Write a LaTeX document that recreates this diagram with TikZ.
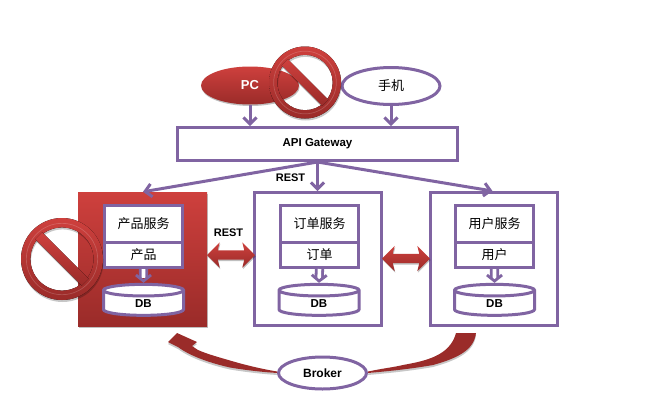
\documentclass[tikz,border=0pt]{standalone}
\usepackage{fontspec}
\setmainfont{Liberation Sans}
\newfontfamily\cjk{Noto Sans CJK SC}
\usetikzlibrary{shapes.geometric,shapes.arrows,shadows,arrows.meta,calc}
\definecolor{vio}{HTML}{8064A2}
\definecolor{redt}{HTML}{CE403D}
\definecolor{redb}{HTML}{9A2B29}
\tikzset{
  x=1pt,y=-1pt,
  redfill/.style={top color=redt,bottom color=redb,shading angle=0},
  softshadow/.style={drop shadow={shadow xshift=0.6pt,shadow yshift=-1.5pt,fill=black,opacity=0.25}},
  pbox/.style={draw=vio,line width=3pt,fill=white,inner sep=0pt,rectangle,font=\bfseries\fontsize{11.5}{13}\selectfont},
  pell/.style={draw=vio,line width=3pt,fill=white,ellipse,inner sep=0pt},
  conn/.style={draw=vio,line width=3pt,-{Straight Barb[length=6.5pt,width=13pt,line width=3pt]}},
  dshaft/.style={draw=vio,double=white,double distance=3.6pt,line width=2.8pt,shorten >=5pt},
  dhead/.style={draw=vio,line width=0.3pt,shorten <=12pt,-{Straight Barb[length=6pt,width=15pt,line width=2.8pt]}},
  svc/.style={pbox,minimum width=78pt,minimum height=37pt,font=\cjk\fontsize{13}{14}\selectfont},
  tbl/.style={pbox,minimum width=78pt,minimum height=25pt,font=\cjk\fontsize{13}{14}\selectfont},
  host/.style={pbox,minimum width=127pt,minimum height=133pt},
  dbl/.style={double arrow,redfill,inner sep=0pt,minimum height=48pt,double arrow head extend=8pt,double arrow head indent=2pt,softshadow},
  lab/.style={font=\bfseries\fontsize{11}{12}\selectfont,inner sep=0pt},
  dbc/.style={cylinder,shape border rotate=90,aspect=0.7,draw=vio,line width=3pt,fill=white,inner sep=0pt,minimum width=80pt,minimum height=31pt,font=\bfseries\fontsize{11.5}{12}\selectfont},
  swoosh/.style={fill=redb,drop shadow={shadow xshift=0pt,shadow yshift=-2pt,fill=black,opacity=0.22}},
}
\newcommand{\nosign}[3]{% centre x, centre y, radius
  \begin{scope}[shift={(#1,#2)}]
    \fill[black,opacity=0.22,even odd rule,shift={(0.6,2)}]
      (0,0) circle[radius=#3] (0,0) circle[radius=#3*0.77];
    \fill[black,opacity=0.22,shift={(0.6,2)},rotate=-45] (-#3*0.8,-#3*0.12) rectangle (#3*0.8,#3*0.12);
    \fill[redfill,even odd rule]
      (0,0) circle[radius=#3] (0,0) circle[radius=#3*0.77];
    \fill[redfill,rotate=-45] (-#3*0.8,-#3*0.12) rectangle (#3*0.8,#3*0.12);
    \draw[white,opacity=0.18,line width=0.7pt] (0,0) circle[radius=#3*0.87];
  \end{scope}}
\begin{document}
\begin{tikzpicture}
\useasboundingbox (0,0) rectangle (657,408);
\fill[white] (0,0) rectangle (657,408);

% top
\node[ellipse,redfill,softshadow,inner sep=0pt,minimum width=98pt,minimum height=38pt,text=white,font=\bfseries\fontsize{13}{13}\selectfont] (pc) at (250,85.5) {PC};
\node[pell,minimum width=98pt,minimum height=37pt,font=\cjk\fontsize{13}{14}\selectfont] (phone) at (391,86) {手机};
\node[pbox,minimum width=280pt,minimum height=33pt] (api) at (317.5,144) {API Gateway};
\nosign{305}{82.5}{36}

\draw[conn] (pc.south) -- (pc.south |- api.north);
\draw[conn] (phone.south) -- (phone.south |- api.north);

% hosts
\node[rectangle,redfill,softshadow,minimum width=129pt,minimum height=134pt,inner sep=0pt] (h1) at (142.5,259) {};
\node[host] (h2) at (318,259) {};
\node[host] (h3) at (493.5,259) {};

\draw[conn] (api.south) -- ($(h1.north)+(0.5,0)$);
\draw[conn] (api.south) -- (api.south |- h2.north);
\draw[conn] (api.south) -- ($(h3.north)+(-1,0)$);

% service stacks
\node[svc] (s1) at (143.5,224) {产品服务};
\node[tbl] (t1) at (143.5,255) {产品};
\node[svc] (s2) at (319.5,224) {订单服务};
\node[tbl] (t2) at (319.5,255) {订单};
\node[svc] (s3) at (494.5,224) {用户服务};
\node[tbl] (t3) at (494.5,255) {用户};

\node[dbc] (d1) at (143.5,303.5) {DB};
\node[dbc] (d2) at (319,303.5) {DB};
\node[dbc] (d3) at (494.5,303.5) {DB};

\draw[dshaft] (t1.south) -- (d1.north);
\draw[dshaft] (t2.south) -- (d2.north);
\draw[dshaft] (t3.south) -- (d3.north);
\draw[dhead] (t1.south) -- (d1.north);
\draw[dhead] (t2.south) -- (d2.north);
\draw[dhead] (t3.south) -- (d3.north);

\nosign{62}{259}{41}

% between hosts
\node[dbl] (r1) at (231,255) {\rule{0pt}{9pt}};
\node[dbl] (r2) at (406,258.5) {\rule{0pt}{9pt}};
\node[lab] (restb) at (228.5,232.5) {REST};
\node[lab] (resta) at (290.5,177.5) {REST};

% broker
\node[pell,minimum width=88pt,minimum height=32pt,font=\fontsize{12}{13}\selectfont\bfseries] (broker) at (322.5,373) {Broker};
\fill[swoosh]
  (broker.west) ++(0,-1.5)
  .. controls (262,369) and (245,365) .. (230,360.5)
  .. controls (218,357) and (207,354) .. (198,350)
  -- (192,346) -- (197,342) -- (177,333) -- (168,342) -- (178,347)
  .. controls (190,356) and (210,363) .. (230,367.5)
  .. controls (245,370) and (262,372) .. (broker.west) -- cycle;
\fill[swoosh]
  (broker.east) ++(0,-1.5)
  .. controls (385,368) and (395,367) .. (403,365)
  .. controls (425,361) and (450,356) .. (456,333)
  -- (476,333)
  .. controls (474,350) and (458,358) .. (433,365)
  .. controls (410,369) and (390,371) .. (broker.east) -- cycle;
\end{tikzpicture}
\end{document}
